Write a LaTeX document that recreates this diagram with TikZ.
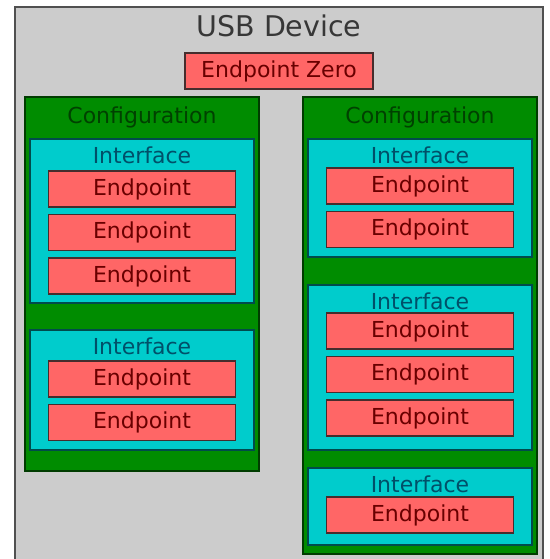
\documentclass[tikz,border=0pt]{standalone}
\usepackage{fontspec}
\setmainfont{DejaVu Sans}
\usepackage{tikz}
\usetikzlibrary{positioning}
\definecolor{DevGrey}{RGB}{204,204,204}
\definecolor{DevLine}{RGB}{80,80,80}
\definecolor{DevText}{RGB}{55,55,55}
\definecolor{CfgGreen}{RGB}{0,140,0}
\definecolor{CfgLine}{RGB}{0,60,0}
\definecolor{CfgText}{RGB}{0,65,0}
\definecolor{IfCyan}{RGB}{0,204,204}
\definecolor{IfLine}{RGB}{0,75,75}
\definecolor{IfText}{RGB}{0,80,105}
\definecolor{EpRed}{RGB}{255,102,102}
\definecolor{EpLine}{RGB}{70,45,45}
\definecolor{EpText}{RGB}{105,0,0}

\begin{document}
\begin{tikzpicture}[x=1pt, y=-1pt, node distance=7.5pt,
    every node/.style={font=\fontsize{22}{26}\selectfont, inner sep=0pt, outer sep=0pt},
    device/.style={draw=DevLine, fill=DevGrey, line width=1.5pt,
        minimum width=528pt, minimum height=560pt,
        label={[text=DevText, font=\fontsize{28.5}{33}\selectfont, anchor=base, yshift=-30pt]north:USB Device}},
    config/.style={draw=CfgLine, fill=CfgGreen, line width=1.5pt, minimum width=234pt,
        label={[text=CfgText, anchor=base, yshift=-27pt]north:Configuration}},
    iface/.style={draw=IfLine, fill=IfCyan, line width=1.5pt, minimum width=224pt,
        label={[text=IfText, anchor=base, yshift=-24pt]north:Interface}},
    endpt/.style={draw=EpLine, fill=EpRed, line width=1.5pt, text=EpText,
        minimum width=187pt, minimum height=36pt}]
\useasboundingbox (0,0) rectangle (549,559);
\node[device, anchor=north west] (dev) at (15,7) {};
\node[endpt, minimum width=188pt, below=46pt of dev.north] (ep0) {Endpoint Zero};
% left configuration
\node[config, minimum height=374pt, anchor=north west] (cfgL) at (25,97) {};
\node[iface, minimum height=164pt, below=42pt of cfgL.north] (ifL1) {};
\node[endpt, below=32pt of ifL1.north] (epL1) {Endpoint};
\node[endpt, below=of epL1] (epL2) {Endpoint};
\node[endpt, below=of epL2] (epL3) {Endpoint};
\node[iface, minimum height=120pt, below=27pt of ifL1] (ifL2) {};
\node[endpt, below=31pt of ifL2.north] (epL4) {Endpoint};
\node[endpt, below=of epL4] (epL5) {Endpoint};
% right configuration
\node[config, minimum height=457pt, anchor=north west] (cfgR) at (303,97) {};
\node[iface, minimum height=118pt, below=42pt of cfgR.north] (ifR1) {};
\node[endpt, below=29pt of ifR1.north] (epR1) {Endpoint};
\node[endpt, below=of epR1] (epR2) {Endpoint};
\node[iface, minimum height=165pt, below=28pt of ifR1] (ifR2) {};
\node[endpt, below=28pt of ifR2.north] (epR3) {Endpoint};
\node[endpt, below=of epR3] (epR4) {Endpoint};
\node[endpt, below=of epR4] (epR5) {Endpoint};
\node[iface, minimum height=77pt, below=18pt of ifR2] (ifR3) {};
\node[endpt, below=29pt of ifR3.north] (epR6) {Endpoint};
\end{tikzpicture}
\end{document}
